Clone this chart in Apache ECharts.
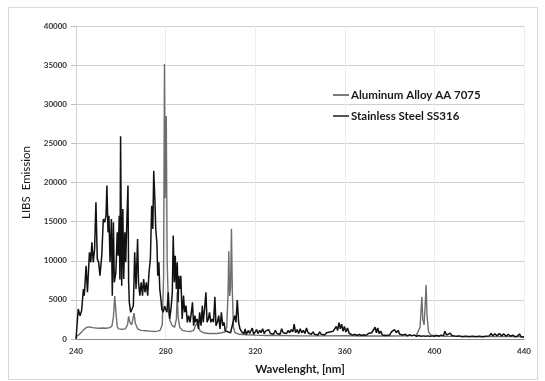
<!DOCTYPE html>
<html>
<head>
<meta charset="utf-8">
<script src="https://cdn.jsdelivr.net/npm/echarts@6/dist/echarts.min.js"></script>
<style>
  html, body { margin: 0; padding: 0; background: #fff; }
  #container { width: 545px; height: 381px; }
</style>
</head>
<body>
<div id="container"></div>
<script>
var seriesNames = ['Aluminum Alloy AA 7075', 'Stainless Steel SS316'];
var xTicks = [240, 280, 320, 360, 400, 440];

// Aluminum alloy spectrum [wavelength nm, emission]
var aluminum = [
    [240, 100], [240.5, 400], [241.5, 600], [242.5, 900], [243.5, 1200], [244.5, 1450],
    [245.5, 1550], [246.5, 1500], [247.5, 1450], [249, 1400], [250.5, 1380], [252, 1400],
    [253.5, 1380], [255, 1450], [256, 1600], [256.7, 2800], [257.3, 5500], [257.8, 3500],
    [258.4, 1600], [259, 1300], [260.5, 1250], [262, 1300], [263, 1800], [263.5, 2900],
    [264, 2200], [264.8, 1800], [265.3, 2400], [265.9, 3300], [266.5, 2000], [267.5, 1300],
    [269, 1100], [271, 1050], [273, 1000], [275, 950], [276.5, 1000], [277.5, 1100],
    [278.5, 1800], [279.1, 8000], [279.5, 35150], [279.8, 18000], [280.3, 28500], [280.7, 10000],
    [281.3, 3500], [282, 2300], [283, 1700], [284, 1500], [284.8, 2500], [285.2, 6000],
    [285.6, 2800], [286.3, 1500], [287.5, 1100], [289, 1000], [291, 950], [292.5, 1100],
    [293.3, 1700], [293.9, 2000], [294.6, 1500], [295.5, 1000], [297, 800], [299, 700],
    [301, 700], [303, 700], [305, 800], [306.5, 900], [307.3, 1500], [307.9, 6000],
    [308.2, 11200], [308.6, 5500], [309.0, 6500], [309.4, 14100], [309.8, 6000], [310.3, 1500],
    [311, 800], [313, 600], [316, 550], [320, 500], [325, 450], [330, 450],
    [340, 400], [350, 400], [360, 420], [370, 380], [380, 380], [388, 400],
    [392, 500], [393.6, 1500], [394.1, 4000], [394.4, 5400], [394.8, 2500], [395.4, 1800],
    [396.0, 5000], [396.3, 6900], [396.7, 3000], [397.4, 900], [398.5, 500], [405, 350],
    [415, 330], [425, 300], [435, 300], [440, 280]
];

// Stainless steel spectrum [wavelength nm, emission]
var steel = [
    [240, 0], [241.0, 3830], [241.8, 2980], [242.5, 3600], [243.3, 6390], [243.7, 5540],
    [244.5, 9370], [245.1, 5970], [246.0, 11080], [246.6, 9800], [247.1, 12360], [247.7, 9800],
    [248.3, 11500], [248.9, 17470], [249.5, 10230], [250.1, 9800], [250.7, 8090], [251.5, 10650],
    [252.2, 15340], [252.8, 14910], [253.4, 15760], [253.8, 19600], [254.3, 13630], [254.7, 15760],
    [255.2, 9800], [255.8, 15340], [256.2, 5540], [256.7, 14910], [257.1, 7240], [257.8, 8520],
    [258.4, 13630], [258.8, 10650], [259.3, 15760], [259.6, 7600], [259.9, 25900], [260.4, 6820],
    [260.9, 16610], [261.3, 7670], [261.8, 13630], [262.2, 9800], [262.6, 14060], [263.2, 19600],
    [263.5, 7240], [263.8, 4690], [264.4, 3410], [265.0, 3830], [265.6, 4260], [266.2, 11080],
    [266.8, 6390], [267.5, 12780], [267.9, 7240], [268.5, 5540], [269.1, 7240], [269.7, 5540],
    [270.2, 7670], [270.8, 5970], [271.4, 7240], [272.0, 5540], [272.6, 8520], [273.2, 10230],
    [273.8, 17040], [274.3, 14060], [274.7, 21510], [275.2, 17890], [275.6, 14060], [276.1, 12360],
    [276.5, 8090], [277.0, 9800], [277.4, 6390], [277.9, 5110], [278.3, 3830], [278.9, 3410],
    [279.6, 4200], [280.0, 3800], [280.6, 3410], [281.2, 5970], [281.8, 2560], [282.4, 3830],
    [283.0, 5970], [283.4, 13210], [283.9, 7240], [284.3, 10650], [284.8, 6390], [285.2, 9800],
    [285.6, 4690], [285.9, 8090], [286.4, 6390], [286.8, 8090], [287.4, 2560], [288.0, 5540],
    [288.5, 3410], [289.1, 4260], [289.7, 2130], [290.3, 2980], [290.9, 2130], [291.5, 3410],
    [292.0, 4690], [292.5, 1700], [293.1, 2980], [293.5, 2130], [294.1, 2560], [294.7, 1280],
    [295.2, 3410], [295.8, 1700], [296.4, 4260], [296.8, 2130], [297.4, 3830], [298.0, 5970],
    [298.5, 2130], [299.1, 2560], [299.6, 3410], [300.2, 2130], [300.8, 2560], [301.4, 2130],
    [302.0, 5400], [302.5, 1700], [303.1, 2130], [303.7, 2980], [304.3, 1280], [304.9, 3410],
    [305.5, 1700], [306.1, 2130], [306.6, 1070], [307.2, 1280], [308.0, 900], [309.0, 800],
    [309.8, 800], [310.8, 2980], [311.4, 2130], [312.0, 4980], [312.6, 2130], [313.2, 1280],
    [314.0, 900], [315, 700], [315.5, 1300], [316, 600], [317, 1100], [317.5, 700],
    [318, 900], [318.7, 1400], [319.3, 600], [320, 900], [320.6, 1200], [321.2, 700],
    [322, 1100], [322.6, 800], [323.3, 1300], [324, 700], [324.6, 1000], [325.3, 800],
    [326, 1200], [326.8, 700], [327.5, 900], [328.2, 600], [329, 1100], [329.7, 700],
    [330.4, 900], [331.1, 600], [331.8, 1300], [332.5, 800], [333.2, 1000], [334, 700],
    [334.7, 1100], [335.4, 800], [336.1, 1200], [336.8, 900], [337.4, 1900], [338, 800],
    [338.7, 1200], [339.4, 700], [340.1, 1300], [340.8, 800], [341.5, 1100], [342.2, 700],
    [342.9, 1400], [343.6, 800], [344.3, 1000], [345, 600], [345.8, 900], [346.5, 600],
    [347.2, 800], [348, 500], [348.8, 900], [349.5, 600], [350.2, 700], [351, 500],
    [351.8, 800], [352.5, 600], [353.3, 900], [354, 700], [354.8, 1000], [355.5, 800],
    [356.2, 1600], [356.8, 1100], [357.4, 2100], [358, 1300], [358.6, 1900], [359.2, 1000],
    [359.8, 1600], [360.5, 900], [361.2, 1400], [362, 700], [362.8, 900], [363.5, 500],
    [364.5, 600], [365.5, 450], [366.5, 600], [367.5, 450], [368.5, 550], [369.5, 450],
    [370.5, 700], [371.3, 500], [372, 800], [372.8, 600], [373.5, 1500], [374.1, 800],
    [374.7, 1400], [375.3, 700], [376, 1000], [376.8, 500], [377.6, 600], [378.5, 450],
    [379.3, 700], [380, 500], [380.8, 900], [381.5, 700], [382.2, 1200], [383, 800],
    [383.8, 1100], [384.5, 600], [385.3, 800], [386, 500], [387, 600], [388, 400],
    [389, 550], [390, 400], [391, 500], [392, 350], [393, 450], [394, 350],
    [395, 400], [396, 350], [397, 400], [398, 350], [399, 400], [400, 350],
    [401, 450], [402, 350], [403, 500], [404, 400], [404.7, 1000], [405.4, 500],
    [406.2, 600], [407, 750], [407.8, 450], [408.8, 400], [410, 350], [411, 400],
    [412.5, 300], [414, 350], [415.5, 300], [417, 350], [418.5, 300], [420, 350],
    [421.5, 300], [423, 350], [424.5, 400], [425.3, 700], [426, 400], [427, 650],
    [428, 400], [429, 700], [430, 400], [431, 650], [432, 350], [433, 600],
    [434, 350], [435, 500], [436, 300], [437, 350], [438, 650], [438.6, 300],
    [440, 250]
];

var myChart = echarts.init(document.getElementById('container'));

var option = {
    animation: false,
    backgroundColor: '#fff',
    graphic: [{
        type: 'rect',
        shape: { x: 8.5, y: 7.5, width: 529, height: 372 },
        style: { fill: 'none', stroke: '#d9d9d9', lineWidth: 1 }
    }],
    legend: {
        data: seriesNames,
        orient: 'vertical',
        left: 328,
        top: 84,
        itemGap: 9,
        itemWidth: 16,
        itemHeight: 2,
        icon: 'rect',
        textStyle: { fontFamily: 'Lato', fontWeight: 'bold', fontSize: 11.5, color: '#1a1a1a', padding: [0, 0, 0, -3] }
    },
    grid: { left: 76, right: 21, top: 26, bottom: 42, containLabel: false },
    xAxis: {
        type: 'value',
        min: 240,
        max: 440,
        interval: 40,
        name: 'Wavelenght, [nm]',
        nameLocation: 'middle',
        nameGap: 24,
        nameTextStyle: { fontFamily: 'Lato', fontWeight: 'bold', fontSize: 11.5, color: '#1a1a1a' },
        axisLine: { show: true, lineStyle: { color: '#8c8c8c', width: 1 } },
        axisTick: { show: false },
        axisLabel: {
            fontFamily: 'Lato', fontWeight: 'bold', fontSize: 8, color: '#333', margin: 8,
            formatter: function (v) { return xTicks.indexOf(v) >= 0 ? String(v) : ''; }
        },
        splitLine: { show: true, lineStyle: { color: '#ececec', width: 1 } }
    },
    yAxis: {
        type: 'value',
        min: 0,
        max: 40000,
        interval: 5000,
        name: 'LIBS  Emission',
        nameLocation: 'middle',
        nameGap: 44,
        nameTextStyle: { fontFamily: 'Lato', fontSize: 11.5, color: '#1a1a1a' },
        axisLine: { show: true, lineStyle: { color: '#d0d0d0', width: 1 } },
        axisTick: { show: true, length: 5, lineStyle: { color: '#bdbdbd' } },
        axisLabel: {
            fontFamily: 'Lato', fontWeight: 'bold', fontSize: 8, color: '#333', margin: 9,
            formatter: function (v) { return String(v); }
        },
        splitLine: { show: true, lineStyle: { color: '#cfcfcf', width: 1 } }
    },
    series: [
        {
            name: seriesNames[0],
            type: 'line',
            data: aluminum,
            showSymbol: false,
            symbol: 'none',
            lineStyle: { color: '#6e6e6e', width: 1.4 },
            itemStyle: { color: '#7a7a7a' },
            z: 2
        },
        {
            name: seriesNames[1],
            type: 'line',
            data: steel,
            showSymbol: false,
            symbol: 'none',
            lineStyle: { color: '#111', width: 1.5 },
            itemStyle: { color: '#555' },
            z: 3
        }
    ]
};

myChart.setOption(option);
</script>
</body>
</html>
